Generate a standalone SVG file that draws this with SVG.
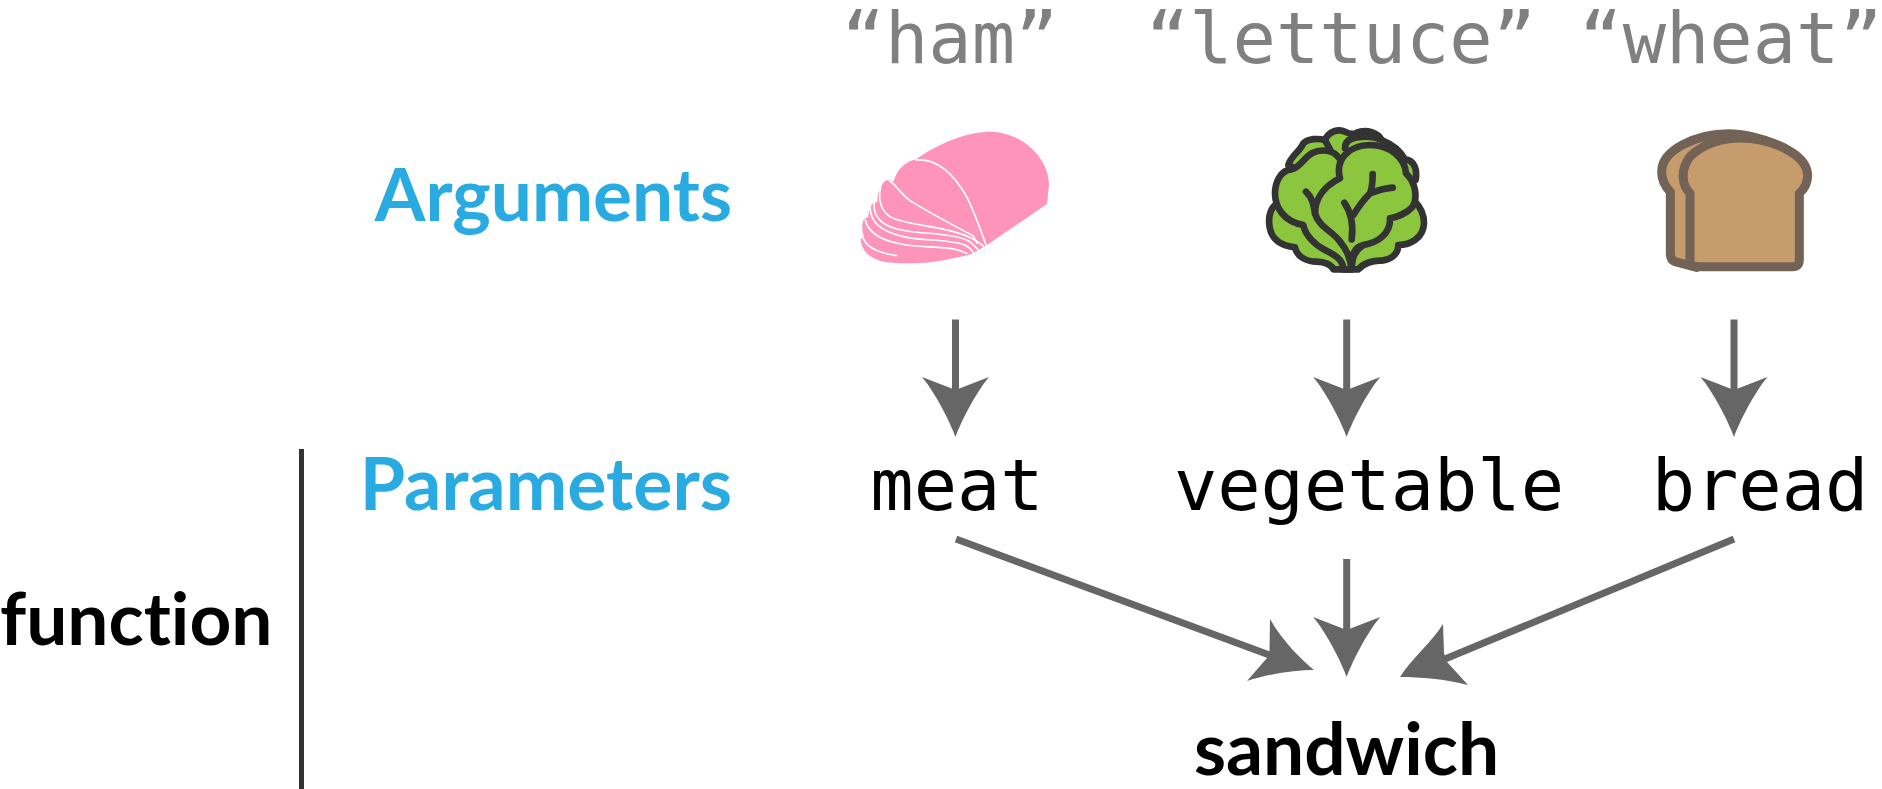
<svg xmlns="http://www.w3.org/2000/svg" width="1882" height="789" viewBox="0 0 1882 789">
<style>
text{white-space:pre;font-variant-ligatures:none}
.lab{font-family:"Lato","Liberation Sans",sans-serif;font-weight:700;font-size:73px}
.blue{fill:#29abe2;text-anchor:end}
.k{fill:#000}
.mono{font-family:"DejaVu Sans Mono","Liberation Mono",monospace;font-size:72px;text-anchor:middle}
.q{fill:#808080}
.c{stroke:#666;stroke-width:7;fill:none}
.w{fill:none;stroke:#fff;stroke-width:5;stroke-linecap:round}
.let{fill:#8cc63f;stroke:#333;stroke-width:20;stroke-linejoin:round;stroke-linecap:round}
.v{fill:none;stroke:#333;stroke-width:20;stroke-linejoin:round;stroke-linecap:round}
.br{fill:#c69c6d;stroke:#736357;stroke-width:27;stroke-linejoin:round}
</style>
<defs>
<path id="ah" d="M0,0C-5,-14-20,-44-33.500,-60L0,-47L33.500,-60C20,-44,5,-14,0,0Z" fill="#666"/>
</defs>
<g id="connectors">
<path class="c" d="M955.500,319.500V395"/><use href="#ah" x="955.500" y="437"/>
<path class="c" d="M1346.700,319.500V395"/><use href="#ah" x="1346.700" y="437"/>
<path class="c" d="M1734,319.500V395"/><use href="#ah" x="1734" y="437"/>
<path class="c" d="M956,539L1272,656"/>
<path class="c" d="M1346.700,559V635"/><use href="#ah" x="1346.700" y="677"/>
<path class="c" d="M1734,539L1445,659"/>
<path d="M1314,670C1302,660,1283,642,1270,619L1269.500,652L1267,658L1247,681C1268,674,1296,670,1314,670Z" fill="#666"/>
<path d="M1400,677C1412,658,1432,642,1443,624L1444,653L1447,662L1468,685C1445,679,1420,677,1400,677Z" fill="#666"/>
<path d="M301.500,449V789" stroke="#333" stroke-width="5" fill="none"/>
</g>
<g id="q-ham"><text class="mono q" x="950" y="63">“ham”</text></g>
<g id="q-lettuce"><text class="mono q" x="1341" y="63">“lettuce”</text></g>
<g id="q-wheat"><text class="mono q" x="1731" y="63">“wheat”</text></g>
<g id="arguments"><text class="lab blue" x="732" y="221">Arguments</text></g>
<g id="parameters"><text class="lab blue" x="732" y="510" style="font-size:73.500px">Parameters</text></g>
<g id="function"><text class="lab k" x="0" y="645">function</text></g>
<g id="sandwich"><text class="lab k" x="1346.500" y="775" text-anchor="middle">sandwich</text></g>
<g id="meat"><text class="mono k" x="957" y="510">meat</text></g>
<g id="vegetable"><text class="mono k" x="1369" y="510">vegetable</text></g>
<g id="bread"><text class="mono k" x="1760" y="510">bread</text></g>
<g id="ham-icon" transform="translate(840,110) scale(.33333)">
<path fill="#ff94bb" d="M228,148C300,95,390,65,450,65C540,65,627,140,627,225L621,282L441,405L395,432L375,437L318,449C260,462,190,462,130,455C90,445,65,425,62,388L72,380C65,360,65,340,72,328L85,320C85,305,90,290,97,282L112,275C112,260,115,240,122,232L130,218C138,208,150,208,160,215C175,170,200,155,228,148Z"/>
<path class="w" d="M228,150C290,145,340,190,380,260C405,310,425,370,438,405"/>
<path class="w" d="M148,212C170,225,190,262,215,275C270,310,340,345,400,378L412,400"/>
<path class="w" d="M122,232C112,270,125,310,160,325C220,350,330,350,395,385C410,393,420,400,430,408"/>
<path class="w" d="M102,280C100,320,125,345,170,357C240,375,320,365,380,390C395,396,405,410,415,420"/>
<path class="w" d="M90,290C90,340,130,365,190,380C250,395,320,385,375,405C385,410,395,420,400,428"/>
<path class="w" d="M76,330C85,370,130,395,200,405C260,415,330,405,380,430"/>
<path class="w" d="M70,385C85,420,130,430,170,437"/>
</g>
<g id="lettuce-icon" transform="translate(1250,110) scale(.33333)">
<path class="let" d="M75,285C50,310,50,370,85,395C100,405,120,410,135,412C140,440,170,455,200,455C225,455,245,465,250,478L325,478C340,460,370,450,395,452C425,450,445,430,445,405C480,405,520,385,522,340C522,310,510,290,495,275L300,200Z"/>
<path class="let" d="M115,165C125,135,150,125,160,100C175,85,205,85,225,90C235,65,265,55,285,65C300,72,310,75,320,68C350,55,385,70,395,90C420,100,450,120,465,148C490,150,503,175,497,210L300,260Z"/>
<path class="v" d="M225,90C230,100,235,110,240,118M285,115C285,95,300,85,320,82C345,78,375,80,395,90"/>
<path class="let" d="M268,145C250,120,215,115,185,130C160,145,150,172,125,178C90,180,75,220,75,250C75,290,100,335,160,345C165,375,195,405,225,420C255,435,280,450,280,478L305,478C305,450,310,425,340,405L300,200Z"/>
<path class="let" d="M270,205C255,150,295,105,360,105C420,105,465,145,468,190C495,215,505,260,488,290C470,310,440,322,420,325C422,370,385,398,340,405C315,410,305,430,305,478C300,440,290,420,270,395C250,365,205,350,195,310C195,260,230,225,270,205Z"/>
<path class="v" d="M305,388C310,350,305,310,283,278M310,315C325,290,345,265,360,250C368,230,368,210,368,192M360,250C385,240,405,235,428,233"/>
<path class="v" d="M168,245C185,260,190,280,195,310"/>
</g>
<g id="bread-icon" transform="translate(1640,110) scale(.33333)">
<path class="br" d="M91,245C70,225,65,205,65,185C65,120,170,71,265,71C300,71,370,82,434,115L300,200L170,472L105,455Q91,450,91,430Z"/>
<path class="br" d="M150,250C125,225,120,180,150,140C190,100,250,84,300,84C390,84,500,130,503,195C503,220,490,240,478,250V450Q478,470,458,470H175Q150,470,150,450Z"/>
</g>
</svg>
